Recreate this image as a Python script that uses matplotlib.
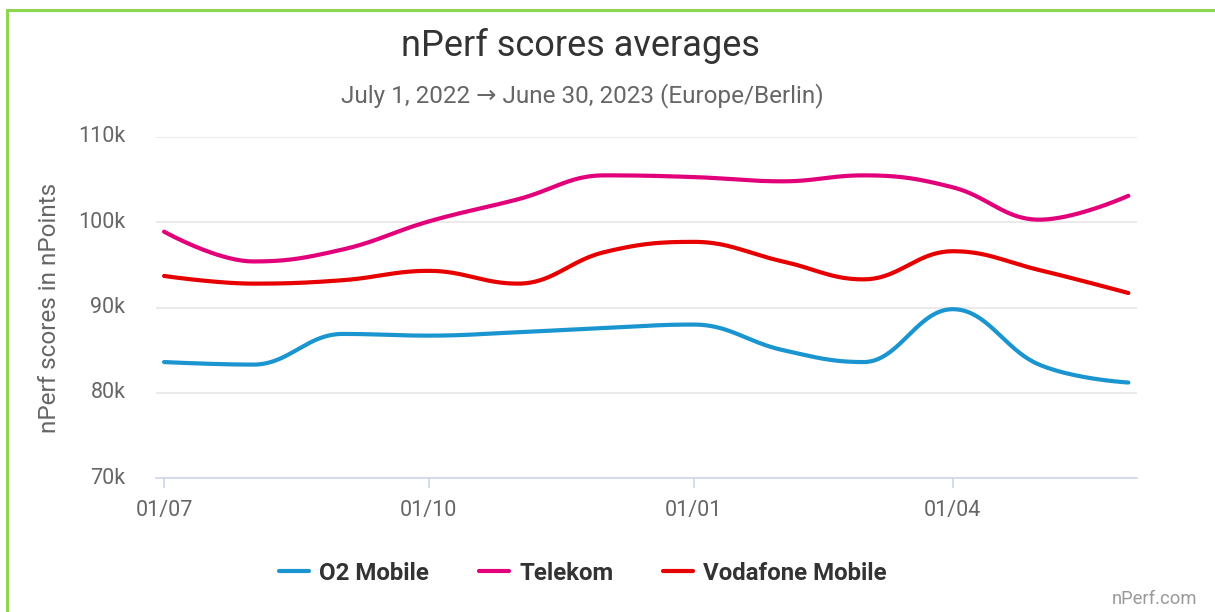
import numpy as np
import matplotlib
matplotlib.use("Agg")
import matplotlib.pyplot as plt
import matplotlib.dates as mdates
from matplotlib.patches import Rectangle
import datetime as dt

plt.rcParams['font.family'] = ['Roboto', 'DejaVu Sans']

months = ["2022-07-01", "2022-08-01", "2022-09-01", "2022-10-01", "2022-11-01", "2022-12-01",
          "2023-01-01", "2023-02-01", "2023-03-01", "2023-04-01", "2023-05-01", "2023-06-01"]
o2 = [83.6, 83.3, 86.9, 86.7, 87.1, 87.6, 88.0, 85.0, 83.6, 89.8, 83.3, 81.2]
telekom = [98.9, 95.4, 96.8, 100.1, 102.7, 105.5, 105.3, 104.8, 105.5, 104.1, 100.3, 103.1]
vodafone = [93.7, 92.8, 93.2, 94.3, 92.8, 96.5, 97.7, 95.4, 93.3, 96.6, 94.4, 91.7]
series_names = ["O2 Mobile", "Telekom", "Vodafone Mobile"]
series_colors = ["#1a95d0", "#e2007a", "#e60000"]
yticks = [70, 80, 90, 100, 110]
ytick_labels = ["70k", "80k", "90k", "100k", "110k"]
xtick_dates = ["2022-07-01", "2022-10-01", "2023-01-01", "2023-04-01"]
xtick_labels = ["01/07", "01/10", "01/01", "01/04"]


def hc_spline(xs, ys, n=40):
    """Highcharts-style spline (smoothing 1.5) evaluated as cubic Beziers."""
    xs = np.asarray(xs, float); ys = np.asarray(ys, float)
    N = len(xs)
    lc = [(x, y) for x, y in zip(xs, ys)]
    rc = [(x, y) for x, y in zip(xs, ys)]
    s = 1.5; d = s + 1
    for i in range(1, N - 1):
        px, py = xs[i], ys[i]
        lx, ly = xs[i - 1], ys[i - 1]
        nx, ny = xs[i + 1], ys[i + 1]
        lcx = (s * px + lx) / d; lcy = (s * py + ly) / d
        rcx = (s * px + nx) / d; rcy = (s * py + ny) / d
        if rcx != lcx:
            corr = ((rcy - lcy) * (rcx - px)) / (rcx - lcx) + py - rcy
            lcy += corr; rcy += corr
        if lcy > ly and lcy > py:
            lcy = max(ly, py); rcy = 2 * py - lcy
        elif lcy < ly and lcy < py:
            lcy = min(ly, py); rcy = 2 * py - lcy
        if rcy > ny and rcy > py:
            rcy = max(ny, py); lcy = 2 * py - rcy
        elif rcy < ny and rcy < py:
            rcy = min(ny, py); lcy = 2 * py - rcy
        lc[i] = (lcx, lcy); rc[i] = (rcx, rcy)
    t = np.linspace(0, 1, n)
    outx, outy = [xs[0]], [ys[0]]
    for i in range(1, N):
        p0 = (xs[i - 1], ys[i - 1]); p1 = rc[i - 1]; p2 = lc[i]; p3 = (xs[i], ys[i])
        bx = (1 - t) ** 3 * p0[0] + 3 * (1 - t) ** 2 * t * p1[0] + 3 * (1 - t) * t ** 2 * p2[0] + t ** 3 * p3[0]
        by = (1 - t) ** 3 * p0[1] + 3 * (1 - t) ** 2 * t * p1[1] + 3 * (1 - t) * t ** 2 * p2[1] + t ** 3 * p3[1]
        outx.extend(bx[1:]); outy.extend(by[1:])
    return np.array(outx), np.array(outy)


xnum = mdates.date2num([dt.datetime.fromisoformat(m) for m in months])

fig = plt.figure(figsize=(12.15, 6.12), dpi=100)
W, H = 1215, 612
ax = fig.add_axes([156 / W, (H - 478) / H, (1137 - 156) / W, (478 - 137) / H])

for vals, name, col in zip([o2, telekom, vodafone], series_names, series_colors):
    sx, sy = hc_spline(xnum, vals)
    ax.plot(sx, sy, color=col, lw=3.0, solid_capstyle='round', label=name, zorder=3)

x0 = xnum[0] - 2.8
x1 = xnum[-1] + 3.0
ax.set_xlim(x0, x1)
ax.set_ylim(70, 110)
ax.set_yticks(yticks)
ax.set_yticklabels(ytick_labels)
ax.grid(axis='y', color='#e6e6e6', lw=1.2, zorder=0)
ax.set_xticks(mdates.date2num([dt.datetime.fromisoformat(d) for d in xtick_dates]))
ax.set_xticklabels(xtick_labels)
for sp in ['top', 'right', 'left']:
    ax.spines[sp].set_visible(False)
ax.spines['bottom'].set_color('#ccd6eb')
ax.spines['bottom'].set_linewidth(1.2)
ax.tick_params(axis='x', colors='#ccd6eb', length=7.5, width=1.2, labelcolor='#666666',
               labelsize=15.5, pad=8)
ax.tick_params(axis='y', length=0, labelcolor='#666666', labelsize=15.5, pad=22)
for lab in ax.get_yticklabels():
    lab.set_verticalalignment('center')
ax.set_ylabel('nPerf scores in nPoints', color='#666666', fontsize=17.5)
ax.yaxis.set_label_coords((61 - 156) / (1137 - 156), 0.5)

fig.text(580 / W, 1 - 46 / H, 'nPerf scores averages', ha='center', va='center',
         fontsize=26, color='#333333')
fig.text(582 / W, 1 - 96 / H, 'July 1, 2022 \u2192 June 30, 2023 (Europe/Berlin)',
         ha='center', va='center', fontsize=17.5, color='#666666')
fig.text(1197 / W, 1 - 599 / H, 'nPerf.com', ha='right', va='center', fontsize=13.2,
         color='#999999')

leg = fig.legend(loc='center', bbox_to_anchor=(583 / W, 1 - 573 / H), ncol=3, frameon=False,
                 prop={'size': 17.3, 'weight': 'bold'}, handlelength=1.25, handletextpad=0.42,
                 columnspacing=2.08)
for t in leg.get_texts():
    t.set_color('#333333')

fig.patches.append(Rectangle((6.5 / W, -0.1), 1.2, 1 - 9.5 / H + 0.1, transform=fig.transFigure,
                             fill=False, edgecolor='#8fd650', lw=2.2))

fig.savefig('out.png', dpi=100, facecolor='white')
